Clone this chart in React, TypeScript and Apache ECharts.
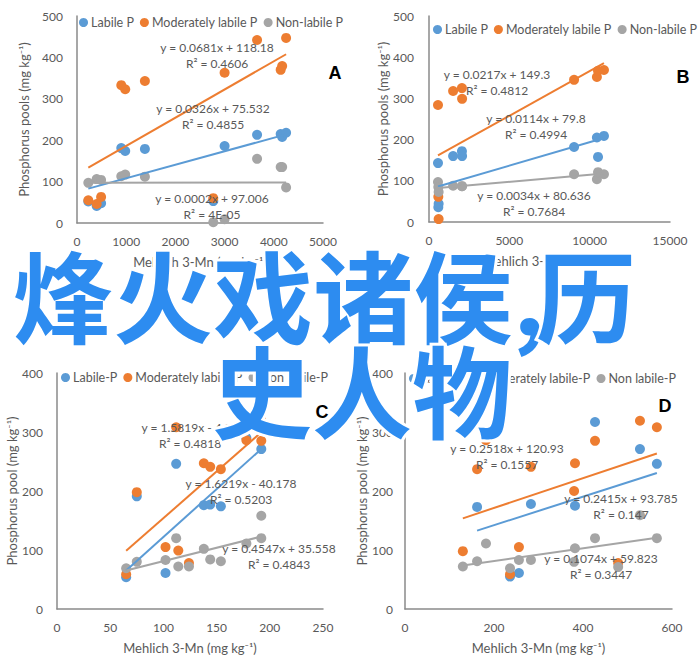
import React, { useEffect, useRef } from "react";
import * as echarts from "echarts";

// ---------- Data ----------
const SERIES_AB = ["Labile P", "Moderately labile P", "Non-labile P"];
const SERIES_CD = ["Labile-P", "Moderately labile-P", "Non labile-P"];
const COLORS = ["#5B9BD5", "#ED7D31", "#A5A5A5"];

// Panel A
const A_X = [230, 400, 490, 900, 980, 1380, 2770, 3000, 3660, 4140, 4170, 4250];
const A_LABILE = [52, 41, 48, 181, 174, 179, 53, 186, 213, 215, 208, 218];
const A_MOD = [55, 46, 63, 333, 323, 343, 60, 363, 442, 370, 379, 447];
const A_NON = [97, 106, 104, 113, 117, 112, 2, 9, 155, 135, 135, 86];
const A_SLOPE = [0.0326, 0.0681, 0.0002];
const A_INTERCEPT = [75.532, 118.18, 97.006];
const A_EQ = ["y = 0.0326x + 75.532", "y = 0.0681x + 118.18", "y = 0.0002x + 97.006"];
const A_R2 = ["R² = 0.4855", "R² = 0.4606", "R² = 4E-05"];

// Panel B
const B_X = [560, 580, 600, 1500, 2050, 2060, 9030, 10450, 10520, 10890];
const B_LABILE = [143, 36, 44, 160, 172, 160, 182, 205, 158, 209];
const B_MOD = [284, 61, 7, 318, 325, 299, 345, 352, 367, 369];
const B_NON = [97, 85, 73, 88, 87, 87, 116, 104, 121, 116];
const B_SLOPE = [0.0114, 0.0217, 0.0034];
const B_INTERCEPT = [79.8, 149.3, 80.636];
const B_EQ = ["y = 0.0114x + 79.8", "y = 0.0217x + 149.3", "y = 0.0034x + 80.636"];
const B_R2 = ["R² = 0.4994", "R² = 0.4812", "R² = 0.7684"];

// Panel C
const C_X = [65, 75, 102, 112, 114, 124, 138, 144, 154, 178, 192, 192];
const C_LABILE = [54, 191, 61, 246, null, null, 176, 177, 174, 290, 271, null];
const C_MOD = [59, 198, 105, 308, 99, 78, 247, 241, 237, 286, 320, 285];
const C_NON = [69, 80, 83, 120, 72, 72, 102, 84, 81, 111, 158, 120];
const C_SLOPE = [1.6219, 1.5819, 0.4547];
const C_INTERCEPT = [-40.178, -4.25, 35.558];
const C_EQ = ["y = 1.6219x - 40.178", "y = 1.5819x - 4.25", "y = 0.4547x + 35.558"];
const C_R2 = ["R² = 0.5203", "R² = 0.4818", "R² = 0.4843"];

// Panel D
const D_X = [130, 162, 182, 236, 256, 283, 380, 382, 427, 479, 528, 566];
const D_LABILE = [null, 173, null, 55, 61, 178, null, 175, 317, null, 271, 246];
const D_MOD = [98, 237, 286, 59, 105, 241, 200, 247, 285, 78, 319, 308];
const D_NON = [72, 81, 111, 69, 83, 83, 80, 103, 120, 71, 159, 120];
const D_SLOPE = [0.2415, 0.2518, 0.1074];
const D_INTERCEPT = [93.785, 120.93, 59.823];
const D_EQ = ["y = 0.2415x + 93.785", "y = 0.2518x + 120.93", "y = 0.1074x + 59.823"];
const D_R2 = ["R² = 0.147", "R² = 0.1557", "R² = 0.3447"];

const PANEL_LETTERS = ["A", "B", "C", "D"];
const OVERLAY_LINE1A = "烽火戏诸侯,";
const OVERLAY_LINE1B = "历";
const OVERLAY_LINE2 = "史人物";

const FONT = 'Lato, "Open Sans", sans-serif';
const TEXT_COLOR = "#595959";

type Panel = {
  x: number[];
  ys: (number | null)[][];
  slope: number[];
  intercept: number[];
  eq: string[];
  r2: string[];
  names: string[];
  grid: { left: number; top: number; width: number; height: number };
  xMax: number;
  xInterval: number;
  yMax: number;
  yName: string;
  yNameGap: number;
  yLabelMargin: number;
  legend: { left: number; top: number };
  eqPos: [number, number][];
  letterPos: [number, number];
};

const panels: Panel[] = [
  {
    x: A_X, ys: [A_LABILE, A_MOD, A_NON], slope: A_SLOPE, intercept: A_INTERCEPT,
    eq: A_EQ, r2: A_R2, names: SERIES_AB,
    grid: { left: 77, top: 16, width: 246, height: 207 },
    xMax: 5000, xInterval: 1000, yMax: 500,
    yName: "Phosphorus pools (mg kg⁻¹)", yNameGap: 47, yLabelMargin: 14,
    legend: { left: 79, top: 16 },
    eqPos: [[213, 108], [217, 47], [212, 198]],
    letterPos: [335, 73],
  },
  {
    x: B_X, ys: [B_LABILE, B_MOD, B_NON], slope: B_SLOPE, intercept: B_INTERCEPT,
    eq: B_EQ, r2: B_R2, names: SERIES_AB,
    grid: { left: 429, top: 16, width: 241, height: 206 },
    xMax: 15000, xInterval: 5000, yMax: 500,
    yName: "Phosphorus pools (mg kg⁻¹)", yNameGap: 40, yLabelMargin: 15,
    legend: { left: 433, top: 23 },
    eqPos: [[536, 118], [497, 74], [534, 195]],
    letterPos: [683, 77],
  },
  {
    x: C_X, ys: [C_LABILE, C_MOD, C_NON], slope: C_SLOPE, intercept: C_INTERCEPT,
    eq: C_EQ, r2: C_R2, names: SERIES_CD,
    grid: { left: 57, top: 373, width: 266, height: 236 },
    xMax: 250, xInterval: 50, yMax: 400,
    yName: "Phosphorus pool (mg kg⁻¹)", yNameGap: 36, yLabelMargin: 14,
    legend: { left: 61, top: 371 },
    eqPos: [[241, 483], [190, 427], [279, 548]],
    letterPos: [322, 412],
  },
  {
    x: D_X, ys: [D_LABILE, D_MOD, D_NON], slope: D_SLOPE, intercept: D_INTERCEPT,
    eq: D_EQ, r2: D_R2, names: SERIES_CD,
    grid: { left: 405, top: 373, width: 267, height: 236 },
    xMax: 600, xInterval: 200, yMax: 400,
    yName: "Phosphorus pool (mg kg⁻¹)", yNameGap: 35, yLabelMargin: 12,
    legend: { left: 409, top: 372 },
    eqPos: [[621, 498], [507, 448], [601, 558]],
    letterPos: [665, 406],
  },
];

function buildOption() {
  const grids: any[] = [];
  const xAxes: any[] = [];
  const yAxes: any[] = [];
  const legends: any[] = [];
  const series: any[] = [];
  const graphics: any[] = [];

  const axisLine = { show: true, lineStyle: { color: "#8a8a8a", width: 1.5 } };

  panels.forEach((p, i) => {
    grids.push({ ...p.grid, containLabel: false });
    xAxes.push({
      type: "value", gridIndex: i, min: 0, max: p.xMax, interval: p.xInterval,
      axisLine, axisTick: { show: false }, splitLine: { show: false },
      axisLabel: {
        color: TEXT_COLOR, fontFamily: FONT, fontSize: 12, margin: 12,
        formatter: (v: number) => String(v),
      },
      name: "Mehlich 3-Mn (mg kg⁻¹)", nameLocation: "middle", nameGap: 32,
      nameTextStyle: { color: TEXT_COLOR, fontFamily: FONT, fontSize: 13 },
    });
    yAxes.push({
      type: "value", gridIndex: i, min: 0, max: p.yMax, interval: 100,
      axisLine, axisTick: { show: false }, splitLine: { show: false },
      axisLabel: {
        color: TEXT_COLOR, fontFamily: FONT, fontSize: 12, margin: p.yLabelMargin,
        formatter: (v: number) => String(v),
      },
      name: p.yName, nameLocation: "middle", nameGap: p.yNameGap,
      nameTextStyle: { color: TEXT_COLOR, fontFamily: FONT, fontSize: 13 },
    });
    legends.push({
      left: p.legend.left, top: p.legend.top, padding: 0, itemGap: 6,
      itemWidth: 9, itemHeight: 9, icon: "circle", selectedMode: false,
      data: p.names,
      textStyle: { color: TEXT_COLOR, fontFamily: FONT, fontSize: 12.5, padding: [0, 0, 0, -2] },
    });
    p.ys.forEach((ys, k) => {
      const pts = p.x.map((x, j) => [x, ys[j]]).filter((d) => d[1] !== null);
      series.push({
        type: "scatter", name: p.names[k], xAxisIndex: i, yAxisIndex: i,
        data: pts, symbol: "circle", symbolSize: 10,
        itemStyle: { color: COLORS[k], opacity: 1 }, z: 2,
      });
    });
    p.ys.forEach((ys, k) => {
      const xs = p.x.filter((_, j) => ys[j] !== null);
      const x0 = Math.min(...xs);
      const x1 = Math.max(...xs);
      series.push({
        type: "line", name: `trend-${i}-${k}`, xAxisIndex: i, yAxisIndex: i,
        data: [
          [x0, p.slope[k] * x0 + p.intercept[k]],
          [x1, p.slope[k] * x1 + p.intercept[k]],
        ],
        symbol: "none", showSymbol: false,
        lineStyle: { color: COLORS[k], width: 2 }, z: 3,
      });
      const [cx, cy] = p.eqPos[k];
      graphics.push({
        type: "text", x: cx, y: cy, z: 20,
        style: { text: p.eq[k], fill: TEXT_COLOR, font: `12px ${FONT}`, textAlign: "center", textVerticalAlign: "middle" },
      });
      graphics.push({
        type: "text", x: cx, y: cy + 16, z: 20,
        style: { text: p.r2[k], fill: TEXT_COLOR, font: `12px ${FONT}`, textAlign: "center", textVerticalAlign: "middle" },
      });
    });
    graphics.push({
      type: "text", x: p.letterPos[0], y: p.letterPos[1], z: 20,
      style: { text: PANEL_LETTERS[i], fill: "#000", font: `bold 18px "Liberation Sans", Arial, sans-serif`, textAlign: "center", textVerticalAlign: "middle" },
    });
  });

  const overlayStyle = {
    fill: "#2d8cf0",
    stroke: "#ffffff",
    lineWidth: 6,
    font: `bold 100px "Noto Sans CJK SC", sans-serif`,
    textAlign: "left",
    textVerticalAlign: "middle",
  };
  graphics.push({ type: "text", x: 13, y: 292, z: 100, style: { ...overlayStyle, text: OVERLAY_LINE1A } });
  graphics.push({ type: "text", x: 536, y: 292, z: 100, style: { ...overlayStyle, text: OVERLAY_LINE1B } });
  graphics.push({ type: "text", x: 212, y: 387, z: 100, style: { ...overlayStyle, text: OVERLAY_LINE2 } });

  return {
    animation: false,
    backgroundColor: "#ffffff",
    textStyle: { fontFamily: FONT },
    grid: grids,
    xAxis: xAxes,
    yAxis: yAxes,
    legend: legends,
    series,
    graphic: graphics,
  };
}

export default function App() {
  const ref = useRef<HTMLDivElement>(null);
  useEffect(() => {
    if (!ref.current) return;
    const chart = echarts.init(ref.current, undefined, { renderer: "svg" });
    chart.setOption(buildOption());
    return () => chart.dispose();
  }, []);
  return (
    <div
      ref={ref}
      style={{ position: "fixed", left: 0, top: 0, width: 700, height: 671, background: "#fff" }}
    />
  );
}
